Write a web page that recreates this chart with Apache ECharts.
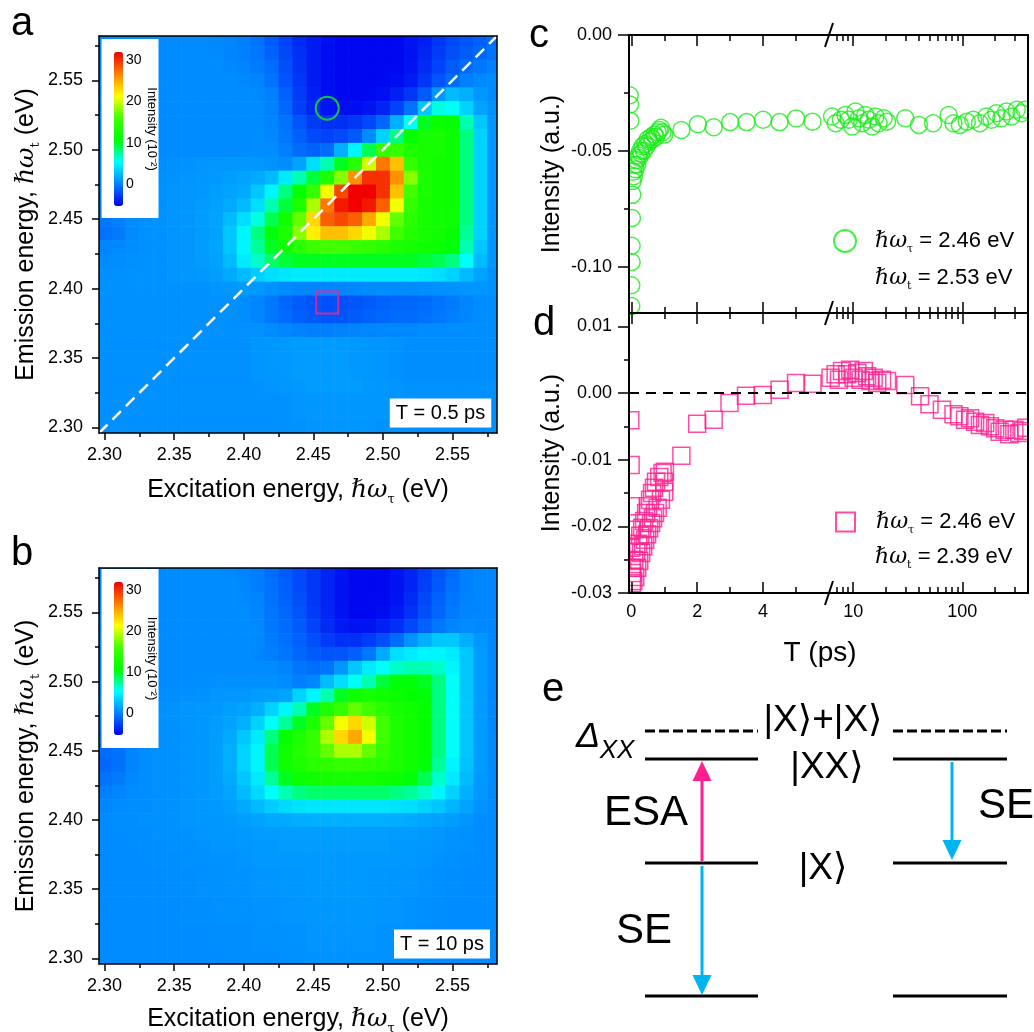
<!DOCTYPE html>
<html><head><meta charset="utf-8">
<script src="https://cdn.jsdelivr.net/npm/echarts@6/dist/echarts.min.js"></script>
<style>html,body{margin:0;padding:0;background:#fff}#chart{width:1034px;height:1032px}</style>
</head><body><div id="chart"></div>
<script>
// ================= DATA =================
// 2D spectra: columns = excitation energy (2.30..2.58 step 0.01),
// rows = emission energy (2.58 at top .. 2.30 at bottom), intensity in units of 10^-2
const excitation = [2.30, 2.31, 2.32, 2.33, 2.34, 2.35, 2.36, 2.37, 2.38, 2.39, 2.40, 2.41, 2.42, 2.43, 2.44,
                    2.45, 2.46, 2.47, 2.48, 2.49, 2.50, 2.51, 2.52, 2.53, 2.54, 2.55, 2.56, 2.57, 2.58];
const emission = [2.58, 2.57, 2.56, 2.55, 2.54, 2.53, 2.52, 2.51, 2.50, 2.49, 2.48, 2.47, 2.46, 2.45, 2.44,
                  2.43, 2.42, 2.41, 2.40, 2.39, 2.38, 2.37, 2.36, 2.35, 2.34, 2.33, 2.32, 2.31, 2.30];
const mapA = [ // T = 0.5 ps
  [0.5,0.5,0.5,0.5,0.5,0.5,0.5,0.5,0.4,0.2, 0,-0.5,-1.5,-2.5,-3.5,-4.2,-4.7,-5,-5,-5, -5,-5,-4.5,-4,-3,-2.3,-1.8,-1.3,-0.8],
  [0.5,0.5,0.5,0.5,0.5,0.5,0.5,0.5,0.4,0.3, 0,-0.4,-1.2,-2.3,-3.3,-4.2,-4.8,-5,-5,-5, -5,-5,-4.6,-3.8,-2.8,-2,-1.5,-1,-0.5],
  [0.5,0.5,0.5,0.5,0.5,0.5,0.5,0.5,0.5,0.4, 0.2,-0.2,-0.8,-2,-3.2,-4.2,-4.8,-5,-5,-5, -5,-5,-4.5,-3.5,-2.5,-1.5,-0.8,-0.3,0],
  [0.5,0.5,0.5,0.5,0.5,0.5,0.5,0.5,0.5,0.5, 0.4,0.2,-0.5,-1.8,-3,-4.2,-4.8,-5,-5,-5, -5,-4.8,-4.2,-3,-1.8,-0.8,0,0.4,0.5],
  [0.5,0.5,0.5,0.5,0.5,0.5,0.5,0.5,0.5,0.5, 0.5,0.4,0,-1.2,-2.8,-4,-4.7,-5,-5,-5, -4.7,-4,-3,-1.5,1,2.5,2,1,0.5],
  [0.5,0.5,0.5,0.5,0.5,0.5,0.5,0.5,0.5,0.5, 0.5,0.5,0.1,-1,-2.7,-3.8,-4.5,-4.8,-4.8,-4.5, -3.8,-2.5,-0.5,3,6,5.5,3.5,1.5,0.7],
  [0.5,0.5,0.5,0.5,0.5,0.5,0.5,0.5,0.5,0.5, 0.5,0.5,0.3,-0.5,-1.8,-2.8,-3.3,-3.3,-3,-2.3, -1,2,5.5,10,11.5,11,7,3,1],
  [0.5,0.5,0.5,0.5,0.5,0.5,0.5,0.5,0.5,0.5, 0.5,0.6,0.4,-0.3,-1.3,-2.2,-2.5,-2.2,-1.6,0.5, 3.5,8,11,12.5,12.5,11.5,8,3.5,1],
  [0.5,0.5,0.5,0.5,0.5,0.5,0.5,0.5,0.5,0.5, 0.5,0.6,0.6,0,-0.8,-1.2,-0.8,2,5,9, 15,15,13,12.5,12.5,11.5,8,3.5,1],
  [0.5,0.5,0.5,0.5,0.6,0.7,0.8,0.9,1,1, 1,1,0.8,0.6,1.5,4,7,10,14,20, 27,24,15,12.5,12,11.5,8,3.5,1],
  [0.5,0.5,0.6,0.6,0.7,0.8,0.9,1,1.1,1.3, 1.5,1.8,2.5,4.5,7,9.5,13,18,26,30, 30,26,18,13,12,11.5,8,3.5,1],
  [0.3,0.5,0.6,0.7,0.8,0.9,1,1.1,1.3,1.5, 1.8,3,5,8,11,15,21,29,32,32, 30,24,16,13,12,11.5,8,3.5,1],
  [0,0.3,0.6,0.7,0.8,0.9,1,1.2,1.4,1.8, 2.5,4,7,9.5,13,19,27,31,32,31, 28,21,15,12.5,12,11.5,8,3.5,1],
  [-0.3,0,0.5,0.7,0.8,0.9,1,1.2,1.5,2.5, 4,6,9,12,17,23,28,29,28,25, 21,17,14,12.5,12,11.5,8,3.5,1],
  [-0.5,-0.2,0.5,0.7,0.8,0.9,1,1.2,1.5,3, 5,8,10.5,13,18,22,24,24,23,21, 19,16,13.5,12.5,12,11,7.5,3.5,1],
  [0.2,0.4,0.6,0.7,0.8,0.9,1,1.2,1.6,3, 5,7.5,10,12,14,15.5,16,16,15.5,15, 14,13,12.5,12,11.5,10.5,7,3,1],
  [0.5,0.6,0.7,0.8,0.8,0.9,1,1.2,1.5,2.5, 4.5,6.5,8.5,9.5,10,10,10,10,10,10, 10,10,10,9.5,9,8,5.5,2.5,1],
  [0.7,0.7,0.8,0.8,0.8,0.9,1,1.1,1.3,1.8, 2.5,3.3,4,4.3,4.5,4.5,4.5,4.5,4.5,4.5, 4.5,4.5,4.5,4.3,4,3.5,2.5,1.5,0.8],
  [0.8,0.8,0.8,0.8,0.8,0.8,0.8,0.8,0.9,1, 1.1,1.1,0.8,0.5,0.3,0.2,0.2,0.3,0.4,0.5, 0.5,0.5,0.5,0.6,0.7,0.8,0.9,0.9,0.8],
  [0.7,0.7,0.7,0.7,0.7,0.7,0.7,0.7,0.7,0.7, 0.6,0.3,-0.3,-1,-1.5,-1.8,-2,-2,-1.8,-1.5, -1.2,-1,-1,-0.8,-0.5,-0.2,0.2,0.5,0.6],
  [0.7,0.7,0.7,0.7,0.7,0.7,0.7,0.7,0.7,0.7, 0.6,0.3,-0.3,-0.8,-1.3,-1.6,-1.8,-1.7,-1.5,-1.2, -1,-0.8,-0.8,-0.6,-0.3,0,0.3,0.5,0.6],
  [0.7,0.7,0.7,0.7,0.7,0.7,0.7,0.7,0.7,0.7, 0.7,0.7,0.5,0.3,0.1,0,0,0.1,0.2,0.3, 0.4,0.4,0.4,0.5,0.5,0.6,0.6,0.6,0.6],
  [0.7,0.7,0.7,0.7,0.7,0.7,0.7,0.7,0.7,0.7, 0.7,0.9,1,1.1,1.2,1.2,1.2,1.2,1.1,1, 0.9,0.8,0.6,0.6,0.6,0.6,0.6,0.6,0.6],
  [0.7,0.7,0.7,0.7,0.7,0.7,0.7,0.7,0.7,0.7, 0.7,0.9,1,1.1,1.2,1.2,1.2,1.2,1.1,1, 0.9,0.8,0.6,0.6,0.6,0.6,0.6,0.6,0.6],
  [0.7,0.7,0.7,0.7,0.7,0.7,0.7,0.7,0.7,0.7, 0.7,0.9,1,1.1,1.2,1.2,1.2,1.2,1.1,1, 0.9,0.8,0.6,0.6,0.6,0.6,0.6,0.6,0.6],
  [0.7,0.7,0.7,0.7,0.7,0.7,0.7,0.7,0.7,0.7, 0.7,0.8,0.9,1,1.1,1.2,1.2,1.2,1.2,1.1, 1,0.9,0.8,0.7,0.7,0.7,0.7,0.7,0.7],
  [0.7,0.7,0.7,0.7,0.7,0.7,0.7,0.7,0.7,0.7, 0.7,0.7,0.7,0.8,0.9,1,1,1,1,1, 1,0.9,0.8,0.7,0.7,0.7,0.7,0.7,0.7],
  [0.7,0.7,0.7,0.7,0.7,0.7,0.7,0.7,0.7,0.7, 0.7,0.7,0.7,0.8,0.9,1,1,1,1,1, 1,0.9,0.8,0.7,0.7,0.7,0.7,0.7,0.7],
  [0.7,0.7,0.7,0.7,0.7,0.7,0.7,0.7,0.7,0.7, 0.7,0.7,0.7,0.8,0.8,0.9,0.9,0.9,0.9,0.9, 0.8,0.8,0.7,0.7,0.7,0.7,0.7,0.7,0.7]
];
const mapB = [ // T = 10 ps
  [0.5,0.5,0.5,0.5,0.5,0.5,0.5,0.5,0.5,0.4, 0.2,-0.2,-0.8,-1.5,-2.3,-3,-3.8,-4.5,-5,-5, -5,-4.5,-3.8,-2.8,-1.8,-0.8,0,0.3,0.3],
  [0.5,0.5,0.5,0.5,0.5,0.5,0.5,0.5,0.5,0.5, 0.3,-0.1,-0.6,-1.3,-2.2,-3,-3.8,-4.6,-5,-5, -5,-4.6,-3.8,-2.7,-1.6,-0.6,0,0.3,0.3],
  [0.5,0.5,0.5,0.5,0.5,0.5,0.5,0.5,0.5,0.5, 0.4,0.2,-0.5,-1.2,-2,-3,-3.8,-4.6,-5,-5, -5,-4.5,-3.5,-2.3,-1.2,-0.4,0.1,0.3,0.3],
  [0.5,0.5,0.5,0.5,0.5,0.5,0.5,0.5,0.5,0.5, 0.5,0.3,-0.4,-1,-1.8,-2.8,-3.7,-4.5,-5,-5, -4.8,-4.2,-3.2,-2,-1,-0.2,0.2,0.3,0.3],
  [0.5,0.5,0.5,0.5,0.5,0.5,0.5,0.5,0.5,0.5, 0.5,0.4,-0.3,-0.8,-1.5,-2.5,-3.5,-4.3,-4.6,-4.5, -4,-3.3,-2.3,-1.2,-0.3,0.3,0.5,0.4,0.3],
  [0.5,0.5,0.5,0.5,0.5,0.5,0.5,0.5,0.5,0.5, 0.5,0.4,-0.2,-0.6,-1.2,-2,-2.8,-3.3,-3.3,-2.8, -2,-0.8,0.8,2,3,3,2,1,0.4],
  [0.5,0.5,0.5,0.5,0.5,0.5,0.5,0.5,0.5,0.5, 0.5,0.3,0,-0.4,-1,-1.5,-1.8,-1.8,-1.3,-0.3, 1.8,4,4.5,5,5,4.5,3,1.2,0.4],
  [0.5,0.5,0.5,0.5,0.5,0.5,0.5,0.5,0.5,0.5, 0.5,0.5,0.5,0.2,-0.4,-0.7,-0.5,1,3,4.5, 5.5,6.5,7,7,6.5,5,3,1.2,0.4],
  [0.5,0.5,0.5,0.5,0.5,0.5,0.6,0.6,0.7,0.7, 0.7,0.7,0.7,0.5,0,0.3,2.5,4,5.5,7, 9.5,10.5,10.5,10,8,5.5,3,1.2,0.4],
  [0.5,0.5,0.5,0.5,0.6,0.6,0.7,0.8,0.9,1, 1,1.2,1.3,1.6,3.5,5,7,10,12,12.5, 12,11.5,11,10.5,8,5.5,3,1.2,0.4],
  [0.5,0.5,0.5,0.6,0.7,0.8,0.9,1,1.1,1.3, 1.5,2,3.5,5,7,10,13,15,17,16, 14,12.5,12,11,8,5.5,3,1.2,0.4],
  [0.2,0.4,0.5,0.6,0.7,0.8,0.9,1,1.2,1.5, 2,3.5,5.5,7.5,10,13,17,21,23,20, 16,13,12,11,8,5.5,3,1.2,0.4],
  [-0.3,0,0.4,0.6,0.7,0.8,0.9,1,1.3,1.8, 3,4.5,8,11,13,15,19,23,25,21, 16,13,12,11,8,5.5,3,1.2,0.5],
  [-0.8,-0.5,0.2,0.6,0.7,0.8,0.9,1,1.3,2, 3.5,5,9,12,13.5,15,17,19,19,17, 15,13,12,11,8,5.5,3,1.2,0.5],
  [-1,-0.6,0.2,0.6,0.7,0.8,0.9,1,1.3,2, 3.5,5,9,12,13,14,14.5,15,15,14.5, 14,13,12,10.5,7.5,5,2.8,1.2,0.5],
  [-0.5,-0.2,0.4,0.6,0.7,0.8,0.9,1,1.3,1.8, 3,4.5,7.5,10,11.5,12,12.5,12.5,12.5,12.5, 12,11.5,10.5,9,6.5,4.5,2.5,1.1,0.5],
  [0,0.3,0.5,0.6,0.7,0.8,0.9,1,1.2,1.6, 2.5,3.8,5.5,7,8,8.5,8.5,8.5,8.5,8.5, 8.5,8,7.5,6.5,5,3.5,2,1,0.5],
  [0.3,0.5,0.6,0.6,0.7,0.8,0.9,1,1.1,1.3, 1.8,2.5,3.2,3.8,4.2,4.3,4.3,4.3,4.3,4.3, 4.3,4.2,4,3.5,3,2.2,1.5,0.8,0.5],
  [0.5,0.6,0.6,0.7,0.7,0.8,0.9,1,1,1.1, 1.3,1.5,1.7,1.8,1.9,2,2,2,2,2, 2,1.9,1.8,1.6,1.4,1.2,0.9,0.6,0.5],
  [0.5,0.5,0.6,0.6,0.7,0.7,0.8,0.9,1,1, 1.1,1.2,1.2,1.3,1.3,1.3,1.3,1.3,1.3,1.3, 1.3,1.2,1.2,1.1,1,0.8,0.7,0.6,0.5],
  [0.5,0.5,0.5,0.6,0.6,0.7,0.7,0.8,0.9,0.9, 1,1.1,1.1,1.2,1.2,1.2,1.2,1.2,1.2,1.2, 1.2,1.1,1.1,1,0.9,0.8,0.7,0.6,0.5],
  [0.5,0.5,0.5,0.5,0.6,0.6,0.7,0.7,0.8,0.8, 0.9,1,1,1.1,1.1,1.1,1.1,1.1,1.1,1.1, 1.1,1,1,0.9,0.8,0.7,0.6,0.5,0.5],
  [0.5,0.5,0.5,0.5,0.5,0.6,0.6,0.7,0.7,0.8, 0.8,0.9,0.9,1,1,1.1,1.1,1.1,1.1,1, 1,0.9,0.9,0.8,0.7,0.6,0.5,0.5,0.5],
  [0.5,0.5,0.5,0.5,0.5,0.6,0.6,0.7,0.7,0.8, 0.8,0.9,0.9,1,1,1.1,1.1,1.1,1.1,1, 1,0.9,0.9,0.8,0.7,0.6,0.5,0.5,0.5],
  [0.5,0.5,0.5,0.5,0.5,0.5,0.6,0.6,0.7,0.7, 0.7,0.8,0.8,0.9,0.9,1,1,1,1,1, 0.9,0.9,0.8,0.7,0.6,0.5,0.5,0.5,0.5],
  [0.5,0.5,0.5,0.5,0.5,0.5,0.6,0.6,0.7,0.7, 0.7,0.8,0.8,0.9,0.9,1,1,1,1,1, 0.9,0.9,0.8,0.7,0.6,0.5,0.5,0.5,0.5],
  [0.5,0.5,0.5,0.5,0.5,0.5,0.5,0.5,0.6,0.6, 0.6,0.7,0.7,0.8,0.8,0.9,0.9,0.9,0.9,0.9, 0.8,0.8,0.7,0.6,0.5,0.5,0.5,0.5,0.5],
  [0.5,0.5,0.5,0.5,0.5,0.5,0.5,0.5,0.6,0.6, 0.6,0.7,0.7,0.8,0.8,0.9,0.9,0.9,0.9,0.9, 0.8,0.8,0.7,0.6,0.5,0.5,0.5,0.5,0.5],
  [0.5,0.5,0.5,0.5,0.5,0.5,0.5,0.5,0.5,0.5, 0.6,0.6,0.6,0.7,0.7,0.8,0.8,0.8,0.8,0.8, 0.7,0.7,0.6,0.6,0.5,0.5,0.5,0.5,0.5]
];
const cellStep = 0.01;
const energyRange = [2.296, 2.582];
const energyTicks = [2.30, 2.35, 2.40, 2.45, 2.50, 2.55];
const energyMinorTicks = [2.325, 2.375, 2.425, 2.475, 2.525, 2.575];
const colorRange = [-5.3, 32];
const colorTicks = [0, 10, 20, 30];
const colorScale = ['#0000f0', '#0080ff', '#00ffff', '#00ff00', '#40ff00', '#ffff00', '#ff8000', '#f00000'];
const diagonal = [[2.296, 2.296], [2.582, 2.582]];
const probeC = {exc: 2.46, em: 2.53};
const probeD = {exc: 2.46, em: 2.39};
const delayLabels = ['T = 0.5 ps', 'T = 10 ps'];

// Kinetics [T (ps), intensity (a.u.)]
const kineticsC = [
  [-0.05, -0.026], [-0.04, -0.030], [-0.03, -0.037], [0.00, -0.117], [0.00, -0.108], [0.01, -0.098],
  [0.01, -0.091], [0.02, -0.079], [0.03, -0.069],
  [0.04, -0.063], [0.06, -0.059], [0.08, -0.061], [0.10, -0.056], [0.12, -0.058], [0.15, -0.054],
  [0.18, -0.056], [0.21, -0.052], [0.24, -0.053], [0.27, -0.050], [0.30, -0.051], [0.34, -0.048],
  [0.38, -0.050], [0.42, -0.047], [0.46, -0.048], [0.50, -0.045], [0.55, -0.046], [0.60, -0.044],
  [0.65, -0.045], [0.70, -0.043], [0.75, -0.044], [0.80, -0.042], [0.85, -0.041], [0.90, -0.040],
  [0.95, -0.042], [1.00, -0.043],
  [1.52, -0.041], [2.02, -0.0385], [2.50, -0.0398], [3.00, -0.0376], [3.50, -0.0376], [4.00, -0.0366],
  [4.50, -0.0376], [5.00, -0.0360], [5.50, -0.0374],
  [6.4, -0.0352], [6.9, -0.0381], [7.7, -0.0366], [8.5, -0.0345], [9.1, -0.0366], [9.8, -0.0395],
  [10.5, -0.0330], [11.3, -0.0359], [12.1, -0.0381], [12.9, -0.0345], [13.9, -0.0366], [14.9, -0.0395],
  [16.0, -0.0352], [17.1, -0.0381], [19.0, -0.0359], [20.4, -0.0374], [30, -0.0359], [40, -0.0388],
  [54, -0.0381], [75, -0.0345], [83, -0.0381], [95, -0.0388], [110, -0.0374], [126, -0.0366],
  [145, -0.0381], [166, -0.0352], [185, -0.0366], [205, -0.0338], [228, -0.0359], [254, -0.0330],
  [283, -0.0352], [315, -0.0323], [349, -0.0338], [373, -0.0323]
];
const kineticsD = [
  [-0.03, -0.0041], [-0.02, -0.0108], [-0.01, -0.0170], [0.00, -0.0205], [0.00, -0.0232], [0.01, -0.0262],
  [0.02, -0.0285],
  [0.03, -0.0270], [0.06, -0.0282], [0.09, -0.0250], [0.12, -0.0276], [0.15, -0.0238], [0.18, -0.0262],
  [0.21, -0.0226], [0.24, -0.0252], [0.27, -0.0214], [0.30, -0.0240], [0.33, -0.0202], [0.36, -0.0230],
  [0.39, -0.0192], [0.42, -0.0220], [0.45, -0.0180], [0.48, -0.0212], [0.51, -0.0170], [0.54, -0.0203],
  [0.57, -0.0160], [0.60, -0.0195], [0.63, -0.0150], [0.66, -0.0188], [0.69, -0.0142], [0.72, -0.0180],
  [0.75, -0.0133], [0.80, -0.0172], [0.85, -0.0126], [0.90, -0.0160], [0.95, -0.0120], [1.00, -0.0148],
  [1.00, -0.0133], [1.02, -0.0118],
  [1.52, -0.0094], [2.00, -0.0046], [2.50, -0.0040], [2.98, -0.0015], [3.48, -0.0004], [3.99, -0.0003],
  [4.50, 0.0005], [5.00, 0.0015], [5.50, 0.0014],
  [6.2, 0.0023], [6.9, 0.0028], [7.4, 0.0020], [7.9, 0.0033], [8.8, 0.0028], [9.4, 0.0035],
  [10.1, 0.0023], [10.9, 0.0030], [11.7, 0.0020], [12.5, 0.0033], [13.4, 0.0025], [14.4, 0.0018],
  [15.4, 0.0023], [16.6, 0.0015], [18.4, 0.0020], [20.4, 0.0018], [30, 0.0012], [41, -0.0005],
  [50, -0.0017], [65, -0.0025], [83, -0.0032], [94, -0.0035], [106, -0.0040], [118, -0.0038],
  [131, -0.0043], [145, -0.0048], [162, -0.0045], [179, -0.0050], [200, -0.0053], [220, -0.0058],
  [244, -0.0055], [270, -0.0062], [300, -0.0055], [333, -0.0060], [362, -0.0057], [385, -0.0052]
];
const timeBreak = 6;
const timeLinRange = [-0.07, 6];
const timeLogRange = [6, 400];
const timeLinTicks = [0, 2, 4];
const timeLinMinor = [1, 3, 5];
const timeLogTicks = [10, 100];
const timeLogMinor = [7, 8, 9, 20, 30, 40, 50, 60, 70, 80, 90, 200, 300];
const rangeC = [-0.12, 0];
const ticksC = [0, -0.05, -0.10];
const minorC = [-0.025, -0.075];
const rangeD = [-0.03, 0.012];
const ticksD = [0.01, 0, -0.01, -0.02, -0.03];
const minorD = [0.005, -0.005, -0.015, -0.025];

// ================= STYLE =================
const FONT = 'Liberation Sans';
const GREEN = '#19ec19';
const PINK = '#ff1f8e';
const SKY = '#00b4f0';

const chart = echarts.init(document.getElementById('chart'), null, {renderer: 'canvas'});

function cells(map) {
  const out = [];
  map.forEach((row, i) => row.forEach((v, j) => out.push([excitation[j], emission[i], v])));
  return out;
}
function renderCell(params, api) {
  const x = api.value(0), y = api.value(1), h = cellStep / 2;
  const p0 = api.coord([x - h, y + h]);
  const p1 = api.coord([x + h, y - h]);
  const cs = params.coordSys;
  const shape = echarts.graphic.clipRectByRect(
    {x: p0[0], y: p0[1], width: p1[0] - p0[0] + 0.6, height: p1[1] - p0[1] + 0.6},
    {x: cs.x, y: cs.y, width: cs.width, height: cs.height});
  return shape && {type: 'rect', shape: shape, style: {fill: api.visual('color')}};
}

const richName = (size) => ({
  n: {fontSize: size, fontFamily: FONT, color: '#000', lineHeight: size + 6},
  h: {fontSize: size, fontFamily: 'DejaVu Serif', fontStyle: 'italic', color: '#000', lineHeight: size + 6},
  s: {fontSize: Math.round(size / 2), fontFamily: 'DejaVu Serif', color: '#000', lineHeight: Math.round(size / 2), verticalAlign: 'bottom'}
});

const xAxes = [], yAxes = [];
function axis(list, grid, type, range, position, o) {
  o = o || {};
  const a = {
    gridIndex: grid, type: type, min: range[0], max: range[1], position: position, z: 5,
    splitLine: {show: false},
    axisLine: {show: !!o.line, onZero: false, lineStyle: {color: '#000', width: o.line || 1}},
    axisTick: {show: !!o.ticks, customValues: o.ticks, length: o.len || 5, inside: !!o.inside,
               lineStyle: {color: '#000', width: o.tw || 1.5}},
    axisLabel: {show: !!o.labels, customValues: o.labels, formatter: o.fmt, fontSize: o.fs || 18,
                fontFamily: FONT, color: '#000', margin: o.margin || 8}
  };
  if (o.name) {
    a.name = o.name; a.nameLocation = 'middle'; a.nameGap = o.nameGap;
    if (o.nameRotate !== undefined) a.nameRotate = o.nameRotate;
    a.nameTextStyle = o.nameStyle || {fontSize: 25, fontFamily: FONT, color: '#000', rich: richName(25)};
  }
  list.push(a);
  return list.length - 1;
}
const f2 = v => v.toFixed(2);
const logFmt = v => String(Math.round(Math.pow(10, v)));
const logRange = [Math.log10(timeLogRange[0]), Math.log10(timeLogRange[1])];
const log10 = arr => arr.map(v => Math.log10(v));

const xNameE = '{n|Excitation energy, }{h|ℏω}{s|τ}{n| (eV)}';
const yNameE = '{n|Emission energy, }{h|ℏω}{s|t}{n| (eV)}';

// ---- grids ----
const grids = [
  {left: 99, top: 36, width: 398, height: 397},    // 0 a
  {left: 99, top: 568, width: 398, height: 396},   // 1 b
  {left: 629, top: 35, width: 200, height: 278},   // 2 c linear
  {left: 829, top: 35, width: 199, height: 278},   // 3 c log
  {left: 629, top: 313, width: 200, height: 280},  // 4 d linear
  {left: 829, top: 313, width: 199, height: 280},  // 5 d log
  {left: 114, top: 52, width: 9, height: 154},     // 6 colorbar a
  {left: 114, top: 582, width: 9, height: 153}     // 7 colorbar b
].map(g => Object.assign(g, {containLabel: false, outerBoundsMode: 'none'}));

// ---- heat map axes ----
const heatAxes = [0, 1].map(g => {
  const xs = axis(xAxes, g, 'value', energyRange, 'bottom', {line: 1.5, ticks: energyTicks, len: 7,
    labels: energyTicks, fmt: f2, margin: 13, name: xNameE, nameGap: g === 0 ? 42 : 40});
  axis(xAxes, g, 'value', energyRange, 'bottom', {ticks: energyMinorTicks, len: 4});
  axis(xAxes, g, 'value', energyRange, 'top', {line: 1.5});
  const ys = axis(yAxes, g, 'value', energyRange, 'left', {line: 1.5, ticks: energyTicks, len: 7,
    labels: energyTicks, fmt: f2, margin: 16, name: yNameE, nameGap: 57});
  axis(yAxes, g, 'value', energyRange, 'left', {ticks: energyMinorTicks, len: 4});
  axis(yAxes, g, 'value', energyRange, 'right', {line: 1.5});
  return {x: xs, y: ys};
});

// ---- kinetics axes ----
function kineticsAxes(gLin, gLog, yRange, yTicks, yMinor, showX) {
  const xl = axis(xAxes, gLin, 'value', timeLinRange, 'bottom', {line: 2, ticks: timeLinTicks, len: 11, inside: true,
    labels: showX ? timeLinTicks : null, fmt: v => String(v), margin: 10});
  axis(xAxes, gLin, 'value', timeLinRange, 'bottom', {ticks: timeLinMinor, len: 6, inside: true});
  axis(xAxes, gLin, 'value', timeLinRange, 'top', {line: 2, ticks: timeLinTicks, len: 11, inside: true});
  axis(xAxes, gLin, 'value', timeLinRange, 'top', {ticks: timeLinMinor, len: 6, inside: true});
  const xg = xAxes.push({gridIndex: gLog, type: 'log', logBase: 10, min: timeLogRange[0], max: timeLogRange[1], show: false}) - 1;
  axis(xAxes, gLog, 'value', logRange, 'bottom', {line: 2, ticks: log10(timeLogTicks), len: 11, inside: true,
    labels: showX ? log10(timeLogTicks) : null, fmt: logFmt, margin: 10});
  axis(xAxes, gLog, 'value', logRange, 'bottom', {ticks: log10(timeLogMinor), len: 6, inside: true});
  axis(xAxes, gLog, 'value', logRange, 'top', {line: 2, ticks: log10(timeLogTicks), len: 11, inside: true});
  axis(xAxes, gLog, 'value', logRange, 'top', {ticks: log10(timeLogMinor), len: 6, inside: true});
  const yl = axis(yAxes, gLin, 'value', yRange, 'left', {line: 2, ticks: yTicks, len: 11, labels: yTicks, fmt: f2,
    margin: 17, name: 'Intensity (a.u.)', nameGap: 64,
    nameStyle: {fontSize: 25, fontFamily: FONT, color: '#000'}});
  axis(yAxes, gLin, 'value', yRange, 'left', {ticks: yMinor, len: 5});
  const yg = axis(yAxes, gLog, 'value', yRange, 'right', {line: 2});
  return {xl, xg, yl, yg};
}
const axC = kineticsAxes(2, 3, rangeC, ticksC, minorC, false);
const axD = kineticsAxes(4, 5, rangeD, ticksD, minorD, true);

// ---- colorbar label axes ----
[6, 7].forEach(g => {
  xAxes.push({gridIndex: g, type: 'value', show: false});
  const i = axis(yAxes, g, 'value', colorRange, 'right', {labels: colorTicks, fmt: v => String(v), fs: 14, margin: 3,
    name: 'Intensity (10⁻²)', nameGap: 17, nameRotate: -90,
    nameStyle: {fontSize: 13, fontFamily: FONT, color: '#000'}});
  yAxes[i].z = 20;
});

// ---- series ----
const probeRich = (sub, val) => `{h|ℏω}{s|${sub}}{n| = ${val.toFixed(2)} eV}`;
const NAME_C = 'probeC', NAME_D = 'probeD';
const openStyle = c => ({color: 'rgba(0,0,0,0)', borderColor: c, borderWidth: 1.5});
const zeroLine = {silent: true, symbol: 'none', label: {show: false},
  lineStyle: {color: '#000', width: 2, type: [10, 7]}, data: [{yAxis: 0}]};

const series = [
  {type: 'custom', name: 'mapA', xAxisIndex: heatAxes[0].x, yAxisIndex: heatAxes[0].y, data: cells(mapA),
   dimensions: ['x', 'y', 'v'], encode: {x: 0, y: 1}, renderItem: renderCell, silent: true, z: 1},
  {type: 'custom', name: 'mapB', xAxisIndex: heatAxes[1].x, yAxisIndex: heatAxes[1].y, data: cells(mapB),
   dimensions: ['x', 'y', 'v'], encode: {x: 0, y: 1}, renderItem: renderCell, silent: true, z: 1},
  {type: 'line', name: 'diag', xAxisIndex: heatAxes[0].x, yAxisIndex: heatAxes[0].y, data: diagonal,
   symbol: 'none', silent: true, lineStyle: {color: '#fff', width: 2.5, type: [12, 7]}, z: 3},
  {type: 'scatter', name: 'markC', xAxisIndex: heatAxes[0].x, yAxisIndex: heatAxes[0].y,
   data: [[probeC.exc, probeC.em]], symbol: 'circle', symbolSize: 23,
   itemStyle: {color: 'rgba(0,0,0,0)', borderColor: GREEN, borderWidth: 2}, z: 4},
  {type: 'scatter', name: 'markD', xAxisIndex: heatAxes[0].x, yAxisIndex: heatAxes[0].y,
   data: [[probeD.exc, probeD.em]], symbol: 'rect', symbolSize: 22,
   itemStyle: {color: 'rgba(0,0,0,0)', borderColor: PINK, borderWidth: 2}, z: 4},
  {type: 'scatter', name: NAME_C, xAxisIndex: axC.xl, yAxisIndex: axC.yl,
   data: kineticsC.filter(p => p[0] <= timeBreak), symbol: 'circle', symbolSize: 17, itemStyle: openStyle(GREEN)},
  {type: 'scatter', name: NAME_C, xAxisIndex: axC.xg, yAxisIndex: axC.yg,
   data: kineticsC.filter(p => p[0] > timeBreak), symbol: 'circle', symbolSize: 17, itemStyle: openStyle(GREEN)},
  {type: 'scatter', name: NAME_D, xAxisIndex: axD.xl, yAxisIndex: axD.yl,
   data: kineticsD.filter(p => p[0] <= timeBreak), symbol: 'rect', symbolSize: 17, itemStyle: openStyle(PINK),
   markLine: zeroLine},
  {type: 'scatter', name: NAME_D, xAxisIndex: axD.xg, yAxisIndex: axD.yg,
   data: kineticsD.filter(p => p[0] > timeBreak), symbol: 'rect', symbolSize: 17, itemStyle: openStyle(PINK),
   markLine: zeroLine}
];

const legendRich = {
  n: {fontSize: 22, fontFamily: FONT, color: '#000', lineHeight: 28},
  h: {fontSize: 22, fontFamily: 'DejaVu Serif', fontStyle: 'italic', color: '#000', lineHeight: 28},
  s: {fontSize: 11, fontFamily: 'DejaVu Serif', color: '#000', lineHeight: 11, verticalAlign: 'bottom'}
};
const legends = [
  {data: [NAME_C], left: 833, top: 229, itemWidth: 22, itemHeight: 22, padding: 0, selectedMode: false,
   formatter: () => probeRich('τ', probeC.exc), textStyle: {padding: [0, 0, 0, 14], rich: legendRich}},
  {data: [NAME_D], left: 835, top: 511, itemWidth: 19, itemHeight: 19, padding: 0, selectedMode: false,
   formatter: () => probeRich('τ', probeD.exc), textStyle: {padding: [0, 0, 0, 16], rich: legendRich}}
];

const visualMaps = [0, 1].map(i => ({
  type: 'continuous', seriesIndex: i, dimension: 2, min: colorRange[0], max: colorRange[1],
  calculable: false, left: 114, top: i === 0 ? 52 : 582, itemWidth: 9, itemHeight: i === 0 ? 154 : 153,
  padding: 0, text: null, showLabel: false, z: 20, hoverLink: false,
  inRange: {color: colorScale}
}));

// ---- graphics ----
const G = [];
const txt = (x, y, text, size, extra) => G.push(Object.assign({type: 'text', x: x, y: y, z: 30,
  style: Object.assign({text: text, fontSize: size, fontFamily: FONT, fill: '#000', align: 'center',
    verticalAlign: 'middle', textAlign: 'center', textVerticalAlign: 'middle'}, extra || {})}));
const ln = (x1, y1, x2, y2, color, w, dash) => G.push({type: 'line', z: 30,
  shape: {x1, y1, x2, y2}, style: {stroke: color, lineWidth: w, lineDash: dash || null}});
const tri = (pts, color) => G.push({type: 'polygon', z: 30, shape: {points: pts}, style: {fill: color}});

// colorbar boxes
G.push({type: 'rect', z: 10, shape: {x: 101.5, y: 39, width: 57, height: 179}, style: {fill: '#fff'}});
G.push({type: 'rect', z: 10, shape: {x: 101.5, y: 569, width: 57, height: 179}, style: {fill: '#fff'}});
// masks that clip kinetics symbols at the frame (below axes, above series)
G.push({type: 'rect', z: 3, shape: {x: 612, y: 20, width: 16, height: 590}, style: {fill: '#fff'}});
G.push({type: 'rect', z: 3, shape: {x: 1029, y: 20, width: 6, height: 590}, style: {fill: '#fff'}});
// delay labels
txt(440.5, 413, delayLabels[0], 20, {backgroundColor: '#fff', padding: [5, 6, 4, 6]});
txt(442, 944, delayLabels[1], 20, {backgroundColor: '#fff', padding: [5, 6, 4, 6]});
// panel letters
txt(22, 24, 'a', 40); txt(22, 554, 'b', 40); txt(539, 36, 'c', 40); txt(544, 324, 'd', 40); txt(553, 690, 'e', 40);
// second probe lines and time axis title
txt(875, 278, probeRich('t', probeC.em), 22, {align: 'left', textAlign: 'left', rich: legendRich});
txt(875, 557, probeRich('t', probeD.em), 22, {align: 'left', textAlign: 'left', rich: legendRich});
txt(820, 653, 'T (ps)', 28);
// axis break marks
[35, 313, 593].forEach(y => ln(825, y + 12, 833, y - 12, '#000', 2));

// panel e: energy level diagram
const lvlL = [645, 758], lvlR = [893, 1007];
const yDash = 731, yXX = 759, yX = 863, yG = 996;
[lvlL, lvlR].forEach(s => {
  ln(s[0], yDash, s[1], yDash, '#000', 3, [10, 4]);
  ln(s[0], yXX, s[1], yXX, '#000', 3);
  ln(s[0], yX, s[1], yX, '#000', 3);
  ln(s[0], yG, s[1], yG, '#000', 3);
});
ln(702, yX - 2, 702, 778, PINK, 3); tri([[702, 761], [692.5, 781], [711.5, 781]], PINK);
ln(702, yX + 3, 702, 978, SKY, 3); tri([[702, 995], [692.5, 975], [711.5, 975]], SKY);
ln(952, yXX + 3, 952, 843, SKY, 3); tri([[952, 860], [942.5, 840], [961.5, 840]], SKY);
const ketFont = {fontFamily: "'Liberation Sans','DejaVu Sans'"};
txt(823, 721, '|X⟩+|X⟩', 37, ketFont);
txt(827, 768, '|XX⟩', 37, ketFont);
txt(823, 869, '|X⟩', 37, ketFont);
txt(646, 813, 'ESA', 42);
txt(644, 931, 'SE', 42);
txt(1006, 806, 'SE', 42);
txt(588, 737, 'Δ', 36, {fontStyle: 'italic'});
txt(617, 751, 'XX', 26, {fontStyle: 'italic'});

chart.setOption({
  animation: false,
  backgroundColor: '#fff',
  textStyle: {fontFamily: FONT},
  grid: grids,
  xAxis: xAxes,
  yAxis: yAxes,
  visualMap: visualMaps,
  legend: legends,
  series: series,
  graphic: {elements: G}
});
</script></body></html>
